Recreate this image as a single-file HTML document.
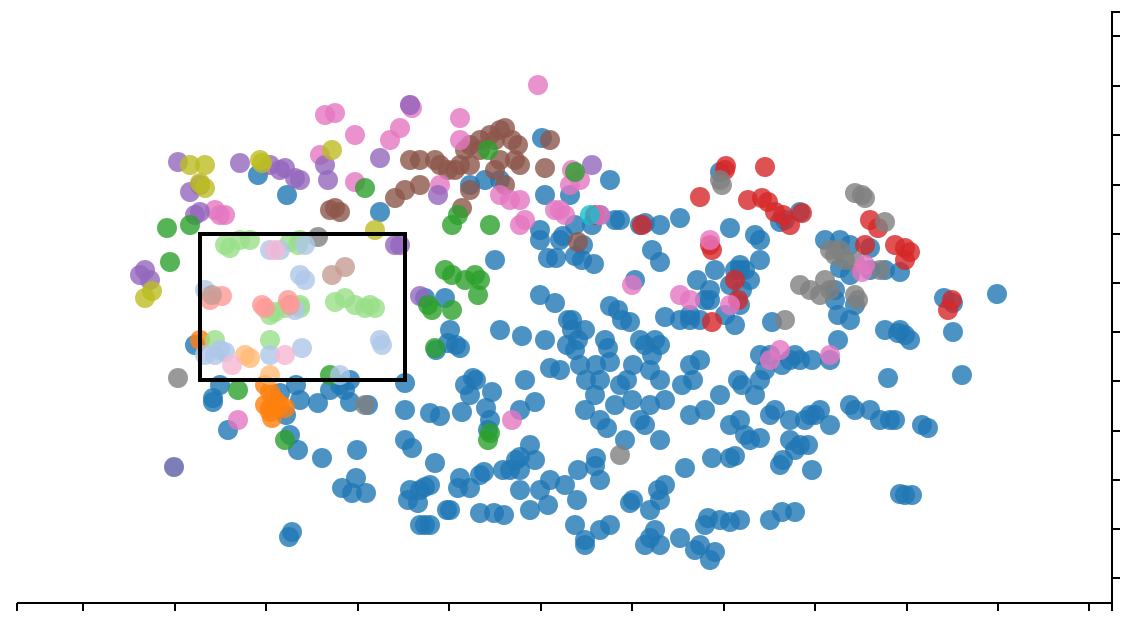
<!DOCTYPE html>
<html><head><meta charset="utf-8"><style>
html,body{margin:0;padding:0;background:#fff;width:1140px;height:621px;overflow:hidden}
svg{display:block}
</style></head><body>
<svg id="s" width="1140" height="621" xmlns="http://www.w3.org/2000/svg">
<g id="dots"></g>
<rect x="200" y="234" width="205" height="146" fill="none" stroke="#000" stroke-width="4"/>
<g stroke="#000" stroke-width="2" fill="none">
<path d="M17,603H1112V12H1120"/>
<path d="M17,603v8M83,603v8M175,603v8M266,603v8M358,603v8M449,603v8M541,603v8M632,603v8M724,603v8M815,603v8M907,603v8M998,603v8M1089,603v8M1112,603v8"/>
<path d="M1112,36h8M1112,86h8M1112,135h8M1112,185h8M1112,234h8M1112,283h8M1112,332h8M1112,381h8M1112,431h8M1112,480h8M1112,529h8M1112,578h8"/>
</g>
</svg>
<script>
var D={
"#1f77b4":"213,398,228,430,195,345,290,435,298,450,322,458,289,537,292,532,357,450,356,478,342,488,352,493,366,493,318,403,345,390,350,402,368,405,405,383,405,410,405,440,412,448,420,490,425,487,430,485,418,503,425,525,420,525,458,488,450,510,460,478,435,463,430,413,440,416,462,412,465,385,476,380,492,392,486,408,490,420,488,430,484,472,480,513,494,513,504,515,503,470,510,470,516,460,520,457,535,460,530,445,520,410,535,402,525,380,550,368,560,370,545,340,522,336,500,330,450,330,456,345,460,348,448,343,436,350,495,260,540,240,548,258,556,258,560,240,575,256,582,260,594,264,583,245,563,236,545,195,570,195,610,180,540,295,555,303,568,320,572,330,567,345,575,350,580,365,586,380,596,365,610,362,600,380,595,395,585,410,600,420,607,428,615,405,620,385,627,380,633,365,645,345,652,355,660,345,650,370,660,380,665,400,650,405,640,420,645,425,660,440,682,385,690,365,693,380,700,360,690,415,705,410,720,395,738,380,742,385,755,395,760,355,765,370,770,355,782,365,790,360,795,355,760,380,740,420,730,425,745,435,750,440,760,438,775,410,770,415,790,420,790,440,795,450,800,445,808,445,812,470,780,465,783,460,815,415,820,410,830,425,850,405,855,410,870,410,880,420,890,420,895,420,922,425,928,428,888,378,900,330,905,335,910,340,885,330,898,333,962,375,953,332,953,303,944,298,997,294,900,272,885,270,870,270,870,248,850,245,840,240,825,240,840,268,850,275,835,290,835,300,838,315,850,320,855,305,838,340,830,360,812,360,800,360,725,315,735,325,740,305,742,290,745,270,750,280,735,270,740,265,760,260,760,240,755,235,780,222,785,220,800,212,730,228,715,270,697,280,710,290,705,300,690,320,700,320,710,300,690,315,680,320,660,262,652,250,645,223,660,225,680,218,640,225,635,280,630,322,665,317,655,340,640,340,622,320,610,306,618,310,605,340,608,348,585,330,578,340,572,320,470,395,473,378,578,470,596,458,625,440,632,400,600,480,595,466,633,500,630,503,658,490,660,500,665,485,650,510,655,530,650,538,660,545,645,545,680,538,695,550,700,545,715,552,710,560,705,525,708,518,720,520,730,522,740,520,770,520,782,512,795,512,610,525,600,530,585,545,585,540,575,525,577,500,550,480,565,485,540,490,548,505,530,510,520,490,520,470,470,488,480,475,447,510,430,525,408,500,410,490,900,494,905,495,912,495,685,468,712,458,730,458,735,456,730,285,740,270,772,322,805,420,810,415,350,380,340,385,330,390,300,400,296,385,280,393,286,415,258,175,287,195,380,212,290,305,445,298,425,298,500,180,485,180,470,185,720,172,542,138,600,215,615,220,620,220,540,230,575,225,592,225,213,402,220,385",
"#5b5ea6":"174,467",
"#d62728":"700,197,726,166,725,170,765,167,748,200,762,198,768,202,775,212,790,225,783,215,802,213,870,220,878,228,895,245,905,248,910,252,905,260,865,245,710,245,712,250,735,280,738,300,712,322,952,300,948,310,595,215,642,225",
"#7f7f7f":"178,378,720,180,722,185,855,193,862,195,865,198,885,222,840,250,830,250,835,255,845,260,855,262,825,280,830,290,810,290,820,295,800,285,880,270,855,295,858,300,365,405,620,455,785,320,318,237",
"#8c564b":"410,160,420,160,435,160,440,165,448,170,455,170,460,165,465,150,470,145,480,150,480,140,490,135,495,140,500,130,505,128,512,140,518,145,515,160,520,165,500,160,495,170,505,185,470,190,462,208,420,185,405,190,395,198,330,210,335,208,340,212,545,168,550,140,578,242,470,165",
"#e377c2":"538,85,410,105,412,108,335,113,325,115,355,135,390,140,400,128,460,118,460,140,440,185,355,182,320,155,215,210,220,215,225,215,500,195,510,200,520,200,525,220,555,210,560,210,565,215,600,215,570,185,580,180,572,170,520,225,710,240,730,305,680,295,690,300,632,285,770,360,780,350,830,355,862,272,865,265,238,420,512,420",
"#9467bd":"178,162,190,192,200,185,240,163,270,165,280,170,295,178,300,180,325,165,328,180,380,158,410,105,438,195,592,165,285,168,195,215,200,212,140,275,145,270,150,280,395,245,400,245,420,296",
"#bcbd22":"190,165,205,165,200,183,205,188,260,160,262,163,332,150,145,298,152,291,375,230",
"#2ca02c":"167,228,170,262,190,225,365,188,458,215,452,225,490,225,445,270,452,275,465,280,475,275,480,280,478,295,428,305,432,310,452,310,435,348,238,390,285,440,490,433,488,440,488,150,575,172,330,375",
"#ff7f0e":"265,385,270,392,275,400,280,405,270,408,285,408,272,418,270,412,265,405,200,340",
"#98df8a":"225,245,240,240,230,248,250,240,290,242,298,245,300,240,335,302,345,298,355,305,365,308,375,308,370,305,215,340,270,340,285,308,300,308,270,315,275,312,300,305",
"#aec7e8":"205,290,205,355,215,355,220,350,225,352,270,250,280,250,305,245,300,275,305,280,295,310,302,348,380,340,382,345,270,355,340,375",
"#ff9896":"210,300,222,296,262,305,265,308,288,300,290,305",
"#c49c94":"332,275,345,267,212,295",
"#ffbb78":"245,355,250,358,270,375",
"#f7b6d2":"275,250,285,355,232,365",
"#17becf":"590,215"};
var g=document.getElementById('dots'),h='';
for(var c in D){var a=D[c].split(',');for(var i=0;i<a.length;i+=2)h+='<circle cx="'+a[i]+'" cy="'+a[i+1]+'" r="10" fill="'+c+'" fill-opacity="0.8"/>';}
g.innerHTML=h;
</script>
</body></html>
